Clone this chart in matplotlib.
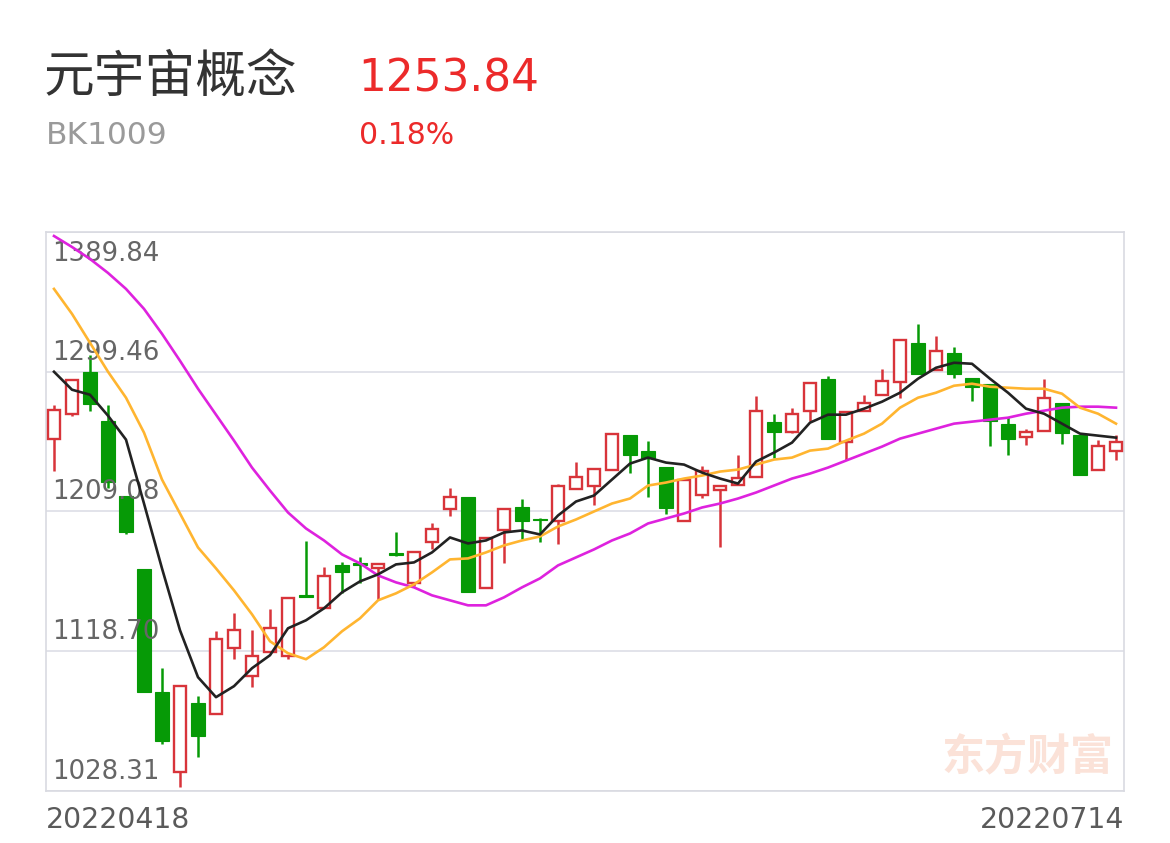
import numpy as np
import matplotlib.pyplot as plt
from matplotlib.patches import Rectangle

# 元宇宙概念 (BK1009) daily K-line, 20220418 - 20220714
name = '元宇宙概念'
code = 'BK1009'
last_price = '1253.84'
change_pct = '0.18%'
dates = ['20220418', '20220714']
watermark = '东方财富'

opens = [1256.20, 1272.34, 1299.46, 1267.83, 1219.41, 1171.63, 1092.22, 1040.57, 1085.12, 1078.02,
         1120.63, 1102.55, 1118.05, 1115.46, 1154.85, 1146.45, 1174.21, 1175.50, 1172.28, 1181.96,
         1162.59, 1189.06, 1210.37, 1218.76, 1159.36, 1196.81, 1212.30, 1203.91, 1202.62, 1223.92,
         1225.86, 1236.19, 1258.79, 1248.46, 1238.13, 1202.62, 1220.05, 1223.28, 1226.51, 1231.67,
         1267.18, 1260.72, 1274.28, 1294.94, 1254.27, 1274.28, 1284.61, 1293.00, 1318.18, 1300.75,
         1311.73, 1295.59, 1291.71, 1265.89, 1257.50, 1261.37, 1279.45, 1258.79, 1236.19, 1248.46]
highs = [1278.16, 1294.94, 1310.44, 1278.16, 1219.41, 1171.63, 1107.72, 1096.10, 1089.64, 1131.60,
         1143.22, 1132.25, 1145.81, 1152.91, 1189.71, 1172.92, 1176.15, 1179.38, 1174.86, 1195.52,
         1182.61, 1201.33, 1224.57, 1218.76, 1191.64, 1210.37, 1217.47, 1204.56, 1227.15, 1241.36,
         1237.48, 1259.43, 1258.79, 1254.91, 1238.13, 1229.74, 1238.77, 1225.86, 1245.88, 1283.97,
         1272.34, 1276.22, 1292.36, 1296.88, 1273.64, 1284.61, 1301.40, 1320.12, 1330.45, 1322.70,
         1315.60, 1295.59, 1291.71, 1270.41, 1262.66, 1294.94, 1279.45, 1258.79, 1255.56, 1258.79]
lows = [1235.55, 1271.05, 1274.28, 1224.57, 1194.23, 1092.22, 1058.65, 1030.89, 1050.26, 1078.02,
        1113.53, 1095.45, 1118.05, 1113.53, 1153.56, 1146.45, 1156.14, 1162.59, 1151.62, 1180.02,
        1160.66, 1184.54, 1205.85, 1156.78, 1159.36, 1175.50, 1191.00, 1189.06, 1187.77, 1223.92,
        1213.60, 1236.19, 1234.25, 1218.76, 1207.78, 1202.62, 1218.11, 1185.83, 1226.51, 1231.67,
        1243.94, 1260.08, 1267.83, 1256.20, 1242.65, 1274.28, 1284.61, 1282.67, 1298.17, 1300.75,
        1295.59, 1280.74, 1251.69, 1245.88, 1252.33, 1261.37, 1252.98, 1232.96, 1236.19, 1242.65]
closes = [1274.93, 1294.30, 1278.80, 1228.44, 1195.52, 1092.22, 1060.59, 1096.10, 1063.82, 1126.44,
          1132.25, 1115.46, 1133.54, 1152.91, 1153.56, 1167.11, 1169.69, 1174.21, 1174.86, 1180.67,
          1182.61, 1197.46, 1218.76, 1156.78, 1191.64, 1210.37, 1202.62, 1203.27, 1225.86, 1231.67,
          1236.84, 1259.43, 1245.88, 1243.94, 1211.66, 1229.74, 1235.55, 1225.86, 1231.03, 1274.28,
          1260.72, 1272.34, 1292.36, 1256.20, 1273.64, 1279.45, 1293.65, 1320.12, 1298.17, 1313.02,
          1298.17, 1289.78, 1267.83, 1256.20, 1260.72, 1282.67, 1260.08, 1232.96, 1251.59, 1253.84]

ma5 = [1299.46, 1287.84, 1284.61, 1271.05, 1255.56, 1214.24, 1172.28, 1132.25, 1101.91, 1088.99,
       1096.10, 1107.72, 1116.11, 1133.54, 1138.71, 1146.45, 1156.78, 1163.88, 1168.40, 1174.86,
       1176.15, 1182.61, 1192.29, 1188.42, 1190.35, 1195.52, 1196.81, 1194.23, 1206.49, 1215.53,
       1219.41, 1229.74, 1240.06, 1243.94, 1240.71, 1239.42, 1234.25, 1230.38, 1227.15, 1241.36,
       1247.17, 1253.62, 1266.53, 1271.70, 1271.70, 1275.57, 1280.09, 1285.90, 1294.94, 1302.04,
       1305.27, 1304.62, 1294.94, 1285.90, 1275.57, 1272.34, 1265.89, 1259.43, 1258.14, 1256.85]
ma10 = [1353.04, 1336.90, 1318.18, 1299.46, 1282.67, 1260.08, 1229.74, 1207.78, 1185.83, 1172.28,
        1158.07, 1142.58, 1125.15, 1117.40, 1113.53, 1121.27, 1131.60, 1140.00, 1151.62, 1156.14,
        1161.95, 1169.69, 1178.09, 1178.73, 1182.61, 1187.13, 1190.35, 1192.94, 1199.39, 1203.91,
        1209.08, 1214.24, 1217.47, 1225.86, 1227.80, 1230.38, 1232.32, 1234.90, 1236.19, 1239.42,
        1242.65, 1243.94, 1248.46, 1249.75, 1254.91, 1259.43, 1265.89, 1276.22, 1282.67, 1285.90,
        1290.42, 1291.71, 1289.78, 1289.13, 1288.48, 1288.48, 1285.26, 1276.22, 1272.34, 1265.89]
ma20 = [1387.26, 1380.16, 1372.41, 1363.37, 1353.04, 1340.13, 1323.99, 1306.56, 1288.48, 1271.70,
        1254.91, 1237.48, 1222.63, 1208.43, 1198.10, 1190.35, 1181.32, 1175.50, 1167.76, 1163.24,
        1160.01, 1154.85, 1151.62, 1148.39, 1148.39, 1153.55, 1160.01, 1165.82, 1174.21, 1179.38,
        1184.54, 1190.35, 1194.87, 1201.33, 1204.56, 1207.78, 1211.66, 1214.24, 1217.47, 1221.34,
        1225.86, 1230.38, 1233.61, 1237.48, 1242.00, 1246.52, 1251.04, 1256.20, 1259.43, 1262.66,
        1265.89, 1267.18, 1268.47, 1269.76, 1272.34, 1274.28, 1276.22, 1276.86, 1276.86, 1276.22]

y_ticks = [1389.84, 1299.46, 1209.08, 1118.70, 1028.31]
y_labels = ['1389.84', '1299.46', '1209.08', '1118.70', '1028.31']

red = '#d8343a'
green = '#069a06'
num_font = 'DejaVu Sans'
cjk_font = ['Noto Sans CJK SC', 'DejaVu Sans']

W, H = 1170, 843
fig = plt.figure(figsize=(W / 100, H / 100), dpi=100)
fig.patch.set_facecolor('white')
ax = fig.add_axes([46 / W, 1 - 791 / H, 1078 / W, 559 / H])

# header
fig.text(44 / W, 1 - 78 / H, name, fontsize=36.5, color='#333333', family=cjk_font, va='center', ha='left')
fig.text(358 / W, 1 - 79 / H, last_price, fontsize=31.5, color='#ec2a2a', family=num_font, va='center', ha='left')
fig.text(46 / W, 1 - 136 / H, code, fontsize=22.5, color='#9a9a9a', family=num_font, va='center', ha='left')
fig.text(359 / W, 1 - 136 / H, change_pct, fontsize=21.5, color='#ec2a2a', family=num_font, va='center', ha='left')

x = np.arange(len(closes))
for i in x:
    o, h, l, c = opens[i], highs[i], lows[i], closes[i]
    top, bot = max(o, c), min(o, c)
    if c >= o:
        ax.vlines(i, top, h, color=red, lw=1.8, zorder=2)
        ax.vlines(i, l, bot, color=red, lw=1.8, zorder=2)
        ax.add_patch(Rectangle((i - 0.33, bot), 0.66, top - bot, facecolor='white',
                               edgecolor=red, lw=1.7, zorder=3))
    else:
        ax.vlines(i, l, h, color=green, lw=1.8, zorder=2)
        ax.add_patch(Rectangle((i - 0.37, bot), 0.74, top - bot, facecolor=green,
                               edgecolor=green, lw=0.8, zorder=3))

ax.plot(x, ma20, color='#de22de', lw=1.9, zorder=4)
ax.plot(x, ma10, color='#ffb530', lw=1.9, zorder=4)
ax.plot(x, ma5, color='#222222', lw=1.9, zorder=5)

ax.set_xlim(-0.444, len(closes) - 1 + 0.444)
ax.set_ylim(y_ticks[-1], y_ticks[0])
ax.set_yticks(y_ticks)
ax.set_xticks([])
ax.tick_params(left=False, labelleft=False)
ax.grid(axis='y', color='#e2e3ea', lw=1.4, zorder=0)
for s in ax.spines.values():
    s.set_color('#d9dae1')
    s.set_linewidth(1.2)

# y labels sit inside the plot, above their grid line (top one below the border)
for i, (v, lab) in enumerate(zip(y_ticks, y_labels)):
    if i == 0:
        ax.annotate(lab, (0, v), xycoords=('axes fraction', 'data'), xytext=(6, -9),
                    textcoords='offset pixels', va='top', ha='left', fontsize=18.7,
                    color='#666666', family=num_font)
    else:
        ax.annotate(lab, (0, v), xycoords=('axes fraction', 'data'), xytext=(6, 12),
                    textcoords='offset pixels', va='baseline', ha='left', fontsize=18.7,
                    color='#666666', family=num_font)

ax.text(0.99, 0.06, watermark, transform=ax.transAxes, fontsize=31, fontweight='bold',
        color='#fbe2d8', family=cjk_font, ha='right', va='center', zorder=1)

fig.text(46 / W, 1 - 820 / H, dates[0], fontsize=20.3, color='#5a5a5a', family=num_font,
         ha='left', va='center')
fig.text(1124 / W, 1 - 820 / H, dates[1], fontsize=20.3, color='#5a5a5a', family=num_font,
         ha='right', va='center')

fig.savefig('out.png', dpi=100)
